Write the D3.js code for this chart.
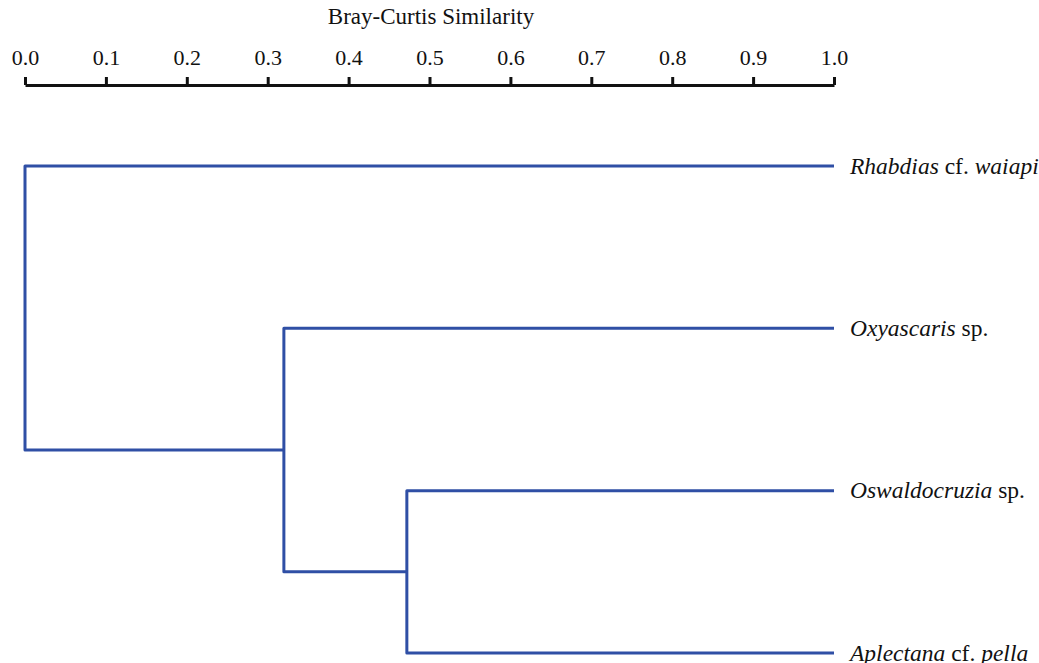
<!DOCTYPE html>
<html>
<head>
<meta charset="utf-8">
<script src="https://cdn.jsdelivr.net/npm/d3@7"></script>
<style>
  html, body { margin: 0; padding: 0; background: #fff; }
  svg { display: block; }
  svg text { font-family: "Liberation Serif", "DejaVu Serif", serif !important; fill: #111; }
</style>
</head>
<body>
<svg id="chart" width="1039" height="663"></svg>
<script>
// ---- data ----
const axisTitle = "Bray-Curtis Similarity";
const tickValues = [0.0, 0.1, 0.2, 0.3, 0.4, 0.5, 0.6, 0.7, 0.8, 0.9, 1.0];
// leaf labels: parts [text, italic]
const leafLabels = [
  [["Rhabdias", true], [" cf. ", false], ["waiapi", true]],
  [["Oxyascaris", true], [" sp.", false]],
  [["Oswaldocruzia", true], [" sp.", false]],
  [["Aplectana", true], [" cf. ", false], ["pella", true]]
];
// linkage: [childA, childB, similarity]; indices >= leaf count refer to earlier merges
const mergeA = [2, 1, 0];
const mergeB = [3, 4, 5];
const mergeSim = [0.472, 0.32, 0.0];
const leafSim = 1.0;

// ---- layout ----
const svg = d3.select("#chart");
const lineColor = "#2f4fa5";
const x = d3.scaleLinear().domain([0, 1]).range([25, 834]);
const y = d3.scalePoint().domain(d3.range(leafLabels.length)).range([166, 653]);

// axis
const axisY = 85;
const axis = d3.axisTop(x)
  .tickValues(tickValues)
  .tickFormat(d3.format(".1f"))
  .tickSize(8)
  .tickSizeOuter(0)
  .tickPadding(12);
const gAxis = svg.append("g").attr("transform", `translate(0,${axisY})`).call(axis);
gAxis.attr("font-family", null).attr("font-size", null);
gAxis.select(".domain").attr("stroke", "#111").attr("stroke-width", 3);
gAxis.selectAll(".tick line").attr("stroke", "#111").attr("stroke-width", 3);
gAxis.selectAll(".tick text").attr("font-size", 22).attr("fill", "#111");

svg.append("text")
  .attr("x", 431).attr("y", 24)
  .attr("text-anchor", "middle")
  .attr("font-size", 23)
  .text(axisTitle);

// nodes
const nodes = leafLabels.map((_, i) => ({ x: x(leafSim), y: y(i) }));
mergeA.forEach((a, k) => {
  const b = mergeB[k];
  const na = nodes[a], nb = nodes[b];
  nodes.push({ x: x(mergeSim[k]), y: (na.y + nb.y) / 2, a: na, b: nb });
});

const g = svg.append("g");
nodes.filter(n => n.a).forEach(n => {
  g.append("path")
    .attr("d", `M${n.a.x},${n.a.y}H${n.x}V${n.b.y}H${n.b.x}`)
    .attr("fill", "none")
    .attr("stroke", lineColor)
    .attr("stroke-width", 3)
    .attr("stroke-linejoin", "round")
    .attr("stroke-linecap", "butt");
});

// leaf labels
leafLabels.forEach((parts, i) => {
  const t = svg.append("text")
    .attr("x", 850).attr("y", y(i)).attr("dy", "0.33em")
    .attr("font-size", 23.5);
  parts.forEach(([s, it]) => {
    t.append("tspan").attr("font-style", it ? "italic" : "normal")
      .style("white-space", "pre").text(s);
  });
});
</script>
</body>
</html>
